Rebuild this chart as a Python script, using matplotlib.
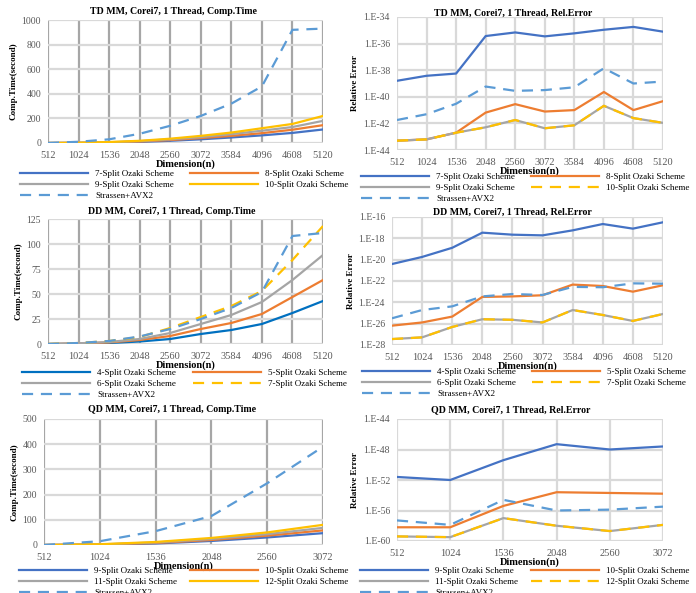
import math
import matplotlib
matplotlib.use('Agg')
import matplotlib.pyplot as plt
from matplotlib.ticker import FixedLocator, FuncFormatter

plt.rcParams['font.family'] = ['Liberation Serif', 'DejaVu Serif']

# colores tipo Excel
BLUE = '#4472C4'
BLUE2 = '#0070C0'
ORANGE = '#ED7D31'
GRAY = '#A5A5A5'
YELLOW = '#FFC000'
LBLUE = '#5B9BD5'

# DATA
dims10 = [512, 1024, 1536, 2048, 2560, 3072, 3584, 4096, 4608, 5120]
dims6 = [512, 1024, 1536, 2048, 2560, 3072]

# TD tempo (s)
td_t7 = [0, 1, 4, 9, 18, 30, 45, 62, 82, 110]
td_t8 = [0, 1, 5, 12, 24, 40, 58, 80, 108, 145]
td_t9 = [0, 2, 6, 15, 30, 48, 72, 100, 130, 180]
td_t10 = [0, 2, 8, 18, 35, 58, 85, 120, 155, 220]
td_tstr = [0, 10, 30, 75, 140, 220, 320, 460, 920, 930]

# TD erro relativo
td_e7 = [1.6e-39, 3.8e-39, 5.6e-39, 3.7e-36, 6.9e-36, 3.5e-36, 5.9e-36, 1.1e-35, 1.8e-35, 7.9e-36]
td_e8 = [5.0e-44, 6.3e-44, 2.0e-43, 6.5e-42, 2.8e-41, 7.8e-42, 1.0e-41, 2.3e-40, 1.0e-41, 4.7e-41]
td_e9 = [5.0e-44, 6.3e-44, 2.0e-43, 5.1e-43, 1.8e-42, 4.3e-43, 7.2e-43, 2.1e-41, 2.5e-42, 1.1e-42]
td_e10 = [5.0e-44, 6.3e-44, 2.0e-43, 5.1e-43, 1.8e-42, 4.3e-43, 7.2e-43, 2.1e-41, 2.5e-42, 1.1e-42]
td_estr = [1.8e-42, 4.9e-42, 3.0e-41, 5.9e-40, 2.8e-40, 3.2e-40, 5.2e-40, 1.4e-38, 1.0e-39, 1.4e-39]

# DD tempo (s)
dd_t4 = [0, 0.3, 1, 2.5, 5, 10, 14, 20, 31, 43]
dd_t5 = [0, 0.5, 1.5, 4, 8, 15, 21, 30, 47, 64]
dd_t6 = [0, 0.7, 2, 5, 11, 20, 29, 42, 64, 89]
dd_t7 = [0, 1, 3, 7, 16, 27, 38, 53, 84, 118]
dd_tstr = [0, 1, 3, 7.5, 15, 25, 36, 52, 108, 111]

# DD erro relativo
dd_e4 = [3.9e-21, 1.8e-20, 1.3e-19, 3.4e-18, 2.2e-18, 1.9e-18, 5.6e-18, 2.2e-17, 8.1e-18, 3.2e-17]
dd_e5 = [6.5e-27, 1.3e-26, 4.6e-26, 3.2e-24, 3.6e-24, 4.6e-24, 4.6e-23, 3.4e-23, 1.0e-23, 4.0e-23]
dd_e6 = [3.6e-28, 5.2e-28, 4.9e-27, 2.6e-26, 2.3e-26, 1.3e-26, 1.9e-25, 6.5e-26, 1.8e-26, 8.1e-26]
dd_e7 = [3.6e-28, 5.2e-28, 4.9e-27, 2.6e-26, 2.3e-26, 1.3e-26, 1.9e-25, 6.5e-26, 1.8e-26, 8.1e-26]
dd_estr = [3.2e-26, 1.9e-25, 4.2e-25, 3.6e-24, 6.0e-24, 4.9e-24, 2.8e-23, 2.6e-23, 6.0e-23, 5.6e-23]

# QD tempo (s)
qd_t9 = [0, 1.5, 6, 16, 30, 47]
qd_t10 = [0, 2, 8, 20, 37, 58]
qd_t11 = [0, 2.5, 10, 24, 43, 68]
qd_t12 = [0, 3, 12, 28, 50, 80]
qd_tstr = [0, 15, 55, 115, 245, 390]

# QD erro relativo
qd_e9 = [2.5e-52, 1.0e-52, 4.0e-50, 5.0e-48, 1.0e-48, 2.5e-48]
qd_e10 = [6.3e-59, 6.3e-59, 4.0e-56, 2.5e-54, 2.0e-54, 1.6e-54]
qd_e11 = [4.0e-60, 3.2e-60, 1.0e-57, 1.0e-58, 2.0e-59, 1.3e-58]
qd_e12 = [4.0e-60, 3.2e-60, 1.0e-57, 1.0e-58, 2.0e-59, 1.3e-58]
qd_estr = [5.0e-58, 1.3e-58, 2.5e-55, 1.0e-56, 1.3e-56, 3.2e-56]

W, H = 696, 593
fig = plt.figure(figsize=(W / 100, H / 100), dpi=100)


def box(l, r, t, b):
    # pixels -> fração da figura
    return [l / W, 1 - b / H, (r - l) / W, (b - t) / H]


def panel(rect, title, title_x, title_y, dims, series, yticks, log=False, vgrid='#A6A6A6'):
    ax = fig.add_axes(box(*rect))
    lines = []
    for vals, color, ls, lab in series:
        if ls == '--':
            ln, = ax.plot(dims, vals, color=color, lw=1.6, label=lab, dashes=(5, 3.5))
        else:
            ln, = ax.plot(dims, vals, color=color, lw=1.6, label=lab)
        lines.append(ln)
    if log:
        ax.set_yscale('log')
        ax.yaxis.set_major_locator(FixedLocator(yticks))
        ax.yaxis.set_minor_locator(FixedLocator([]))
        ax.yaxis.set_major_formatter(FuncFormatter(lambda v, p: '1.E%d' % round(math.log10(v))))
        ax.set_ylabel('Relative Error', fontsize=6.5, fontweight='bold', labelpad=3)
    else:
        ax.set_yticks(yticks)
        ax.set_ylabel('Comp.Time(second)', fontsize=6.5, fontweight='bold', labelpad=3)
    ax.set_ylim(yticks[0], yticks[-1])
    ax.set_xlim(dims[0], dims[-1])
    ax.set_xticks(dims)
    ax.set_xticklabels([str(d) for d in dims])
    ax.tick_params(length=0, colors='#595959')
    ax.tick_params(axis='x', labelsize=7.5, pad=6)
    ax.tick_params(axis='y', labelsize=7, pad=5)
    for s in ax.spines.values():
        s.set_visible(False)
    ax.grid(axis='y', color='#D9D9D9', lw=1.6)
    ax.grid(axis='x', color=vgrid, lw=1.6)
    ax.set_axisbelow(True)
    ax.set_xlabel('Dimension(n)', fontsize=7.5, fontweight='bold', labelpad=-1)
    fig.text(title_x / W, 1 - title_y / H, title, ha='center', va='center',
             fontsize=7.1, fontweight='bold')
    return ax, lines


def legenda(lines, x1, x2, y):
    kw = dict(loc='upper left', frameon=False, fontsize=6.5, handlelength=7.5,
              handletextpad=0.8, labelspacing=0.27, borderpad=0, borderaxespad=0,
              bbox_transform=fig.transFigure)
    col1 = [lines[0], lines[2], lines[4]]
    col2 = [lines[1], lines[3]]
    fig.legend(col1, [l.get_label() for l in col1],
               bbox_to_anchor=(x1 / W, 1 - (y - 4) / H), **kw)
    fig.legend(col2, [l.get_label() for l in col2],
               bbox_to_anchor=(x2 / W, 1 - (y - 4) / H), **kw)


# TD tempo
ax, ls = panel((48, 323, 20, 143), 'TD MM, Corei7, 1 Thread, Comp.Time', 173, 12, dims10,
               [(td_t7, BLUE, '-', '7-Split Ozaki Scheme'),
                (td_t8, ORANGE, '-', '8-Split Ozaki Scheme'),
                (td_t9, GRAY, '-', '9-Split Ozaki Scheme'),
                (td_t10, YELLOW, '-', '10-Split Ozaki Scheme'),
                (td_tstr, LBLUE, '--', 'Strassen+AVX2')],
               [0, 200, 400, 600, 800, 1000])
legenda(ls, 20, 190, 174)

# TD erro
ax, ls = panel((397, 663, 17, 150), 'TD MM, Corei7, 1 Thread, Rel.Error', 513, 13, dims10,
               [(td_e7, BLUE, '-', '7-Split Ozaki Scheme'),
                (td_e8, ORANGE, '-', '8-Split Ozaki Scheme'),
                (td_e9, GRAY, '-', '9-Split Ozaki Scheme'),
                (td_e10, YELLOW, '--', '10-Split Ozaki Scheme'),
                (td_estr, LBLUE, '--', 'Strassen+AVX2')],
               [1e-44, 1e-42, 1e-40, 1e-38, 1e-36, 1e-34], log=True, vgrid='#D9D9D9')
legenda(ls, 361, 531, 177)

# DD tempo
ax, ls = panel((48, 323, 219, 344), 'DD MM, Corei7, 1 Thread, Comp.Time', 172, 212, dims10,
               [(dd_t4, BLUE2, '-', '4-Split Ozaki Scheme'),
                (dd_t5, ORANGE, '-', '5-Split Ozaki Scheme'),
                (dd_t6, GRAY, '-', '6-Split Ozaki Scheme'),
                (dd_t7, YELLOW, '--', '7-Split Ozaki Scheme'),
                (dd_tstr, LBLUE, '--', 'Strassen+AVX2')],
               [0, 25, 50, 75, 100, 125])
legenda(ls, 22, 193, 373)

# DD erro
ax, ls = panel((392, 663, 217, 345), 'DD MM, Corei7, 1 Thread, Rel.Error', 512, 212, dims10,
               [(dd_e4, BLUE, '-', '4-Split Ozaki Scheme'),
                (dd_e5, ORANGE, '-', '5-Split Ozaki Scheme'),
                (dd_e6, GRAY, '-', '6-Split Ozaki Scheme'),
                (dd_e7, YELLOW, '--', '7-Split Ozaki Scheme'),
                (dd_estr, LBLUE, '--', 'Strassen+AVX2')],
               [1e-28, 1e-26, 1e-24, 1e-22, 1e-20, 1e-18, 1e-16], log=True, vgrid='#D9D9D9')
legenda(ls, 362, 532, 372)

# QD tempo
ax, ls = panel((44, 323, 419, 545), 'QD MM, Corei7, 1 Thread, Comp.Time', 172, 410, dims6,
               [(qd_t9, BLUE, '-', '9-Split Ozaki Scheme'),
                (qd_t10, ORANGE, '-', '10-Split Ozaki Scheme'),
                (qd_t11, GRAY, '-', '11-Split Ozaki Scheme'),
                (qd_t12, YELLOW, '-', '12-Split Ozaki Scheme'),
                (qd_tstr, LBLUE, '--', 'Strassen+AVX2')],
               [0, 100, 200, 300, 400, 500])
legenda(ls, 19, 190, 571)

# QD erro
ax, ls = panel((397, 663, 419, 541), 'QD MM, Corei7, 1 Thread, Rel.Error', 511, 410, dims6,
               [(qd_e9, BLUE, '-', '9-Split Ozaki Scheme'),
                (qd_e10, ORANGE, '-', '10-Split Ozaki Scheme'),
                (qd_e11, GRAY, '-', '11-Split Ozaki Scheme'),
                (qd_e12, YELLOW, '--', '12-Split Ozaki Scheme'),
                (qd_estr, LBLUE, '--', 'Strassen+AVX2')],
               [1e-60, 1e-56, 1e-52, 1e-48, 1e-44], log=True, vgrid='#D9D9D9')
legenda(ls, 360, 531, 571)

fig.savefig('out.png', dpi=100)
